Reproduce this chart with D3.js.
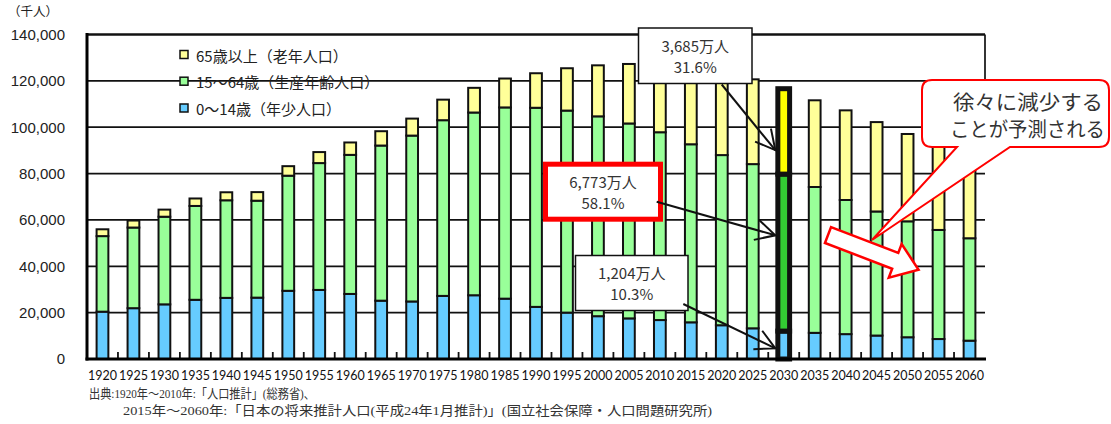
<!DOCTYPE html>
<html lang="ja">
<head>
<meta charset="utf-8">
<script src="https://cdn.jsdelivr.net/npm/d3@7"></script>
<style>
  body { margin: 0; background: #fff; }
  svg { display: block; }
</style>
</head>
<body>
<svg id="chart" width="1111" height="424"></svg>
<script>
// Population by age group, thousands of people (census to 2010, projection from 2015)
const years = [1920, 1925, 1930, 1935, 1940, 1945, 1950, 1955, 1960, 1965, 1970, 1975, 1980, 1985, 1990,
  1995, 2000, 2005, 2010, 2015, 2020, 2025, 2030, 2035, 2040, 2045, 2050, 2055, 2060];
const youth = [20416, 21924, 23579, 25545, 26369, 26477, 29428, 29798, 28067, 25166, 24823, 27221, 27507, 26033, 22486,
  20014, 18472, 17521, 16803, 15827, 14568, 13240, 12039, 11287, 10732, 10116, 9387, 8614, 7912];
const working = [32605, 34792, 37807, 40484, 42110, 41821, 49658, 54729, 60002, 66928, 71566, 75807, 78835, 82506, 85904,
  87165, 86220, 84092, 81032, 76818, 73408, 70845, 67730, 62919, 57866, 53531, 50013, 47063, 44183];
const elderly = [2941, 3021, 3064, 3225, 3454, 3700, 4109, 4747, 5350, 6181, 7331, 8865, 10647, 12468, 14895,
  18261, 22005, 25672, 29246, 33952, 36124, 36573, 36849, 37407, 38678, 38564, 37676, 36257, 34642];
const yTicks = [0, 20000, 40000, 60000, 80000, 100000, 120000, 140000];
const highlightYear = 2030;

const seriesKeys = ["youth", "working", "elderly"];
const seriesLabels = {
  elderly: "65歳以上（老年人口）",
  working: "15～64歳（生産年齢人口）",
  youth: "0～14歳（年少人口）"
};
const colors = { youth: "#66CCFF", working: "#99FF99", elderly: "#FFFF99" };
const hiColors = { youth: "#66CCFF", working: "#33CC33", elderly: "#FFFF00" };

const rows = years.map((yr, i) => ({ year: yr, youth: youth[i], working: working[i], elderly: elderly[i] }));
const stacked = d3.stack().keys(seriesKeys)(rows);

const svg = d3.select("#chart");
const jp = "'Noto Sans CJK JP', 'Noto Sans', sans-serif";

const x = d3.scaleBand().domain(years).range([87, 985]).padding(0);
const y = d3.scaleLinear().domain([0, 140000]).range([359, 34.5]);
const barW = x.bandwidth() * 0.38;

// horizontal grid and frame
svg.append("g").selectAll("line").data(yTicks.filter(d => d > 0 && d < 140000)).join("line")
  .attr("x1", 87).attr("x2", 985).attr("y1", d => y(d)).attr("y2", d => y(d))
  .attr("stroke", "#111").attr("stroke-width", 1.7);
svg.append("line").attr("x1", 87).attr("x2", 985).attr("y1", y(140000)).attr("y2", y(140000))
  .attr("stroke", "#111").attr("stroke-width", 2.4);
svg.append("line").attr("x1", 985).attr("x2", 985).attr("y1", y(140000)).attr("y2", y(100000))
  .attr("stroke", "#111").attr("stroke-width", 1.7);

// y axis labels
const yAxis = d3.axisLeft(y).tickValues(yTicks).tickFormat(d3.format(",")).tickSize(0).tickPadding(22);
const yg = svg.append("g").attr("transform", "translate(87,0)").call(yAxis);
yg.select(".domain").remove();
yg.selectAll("text").attr("font-family", "'Liberation Sans', Arial, sans-serif")
  .attr("font-size", 15).attr("fill", "#222");

// legend
const legendRows = ["elderly", "working", "youth"];
const lg = svg.append("g");
legendRows.forEach((k, i) => {
  const cy = [55, 81.7, 108.5][i];
  lg.append("rect").attr("x", 180).attr("y", cy - 4.5).attr("width", 8).attr("height", 8)
    .attr("fill", colors[k]).attr("stroke", "#111").attr("stroke-width", 1.5);
  lg.append("text").attr("x", 196).attr("y", cy).attr("dominant-baseline", "central")
    .attr("font-family", jp).attr("font-size", 15).attr("fill", "#222").text(seriesLabels[k]);
});

// stacked bars
const barG = svg.append("g");
stacked.forEach(s => {
  barG.append("g").selectAll("rect").data(s).join("rect")
    .attr("x", d => x(d.data.year) + (x.bandwidth() - barW) / 2)
    .attr("width", barW)
    .attr("y", d => y(d[1]))
    .attr("height", d => y(d[0]) - y(d[1]))
    .attr("fill", d => d.data.year === highlightYear ? hiColors[s.key] : colors[s.key])
    .attr("stroke", "#111")
    .attr("stroke-width", d => d.data.year === highlightYear ? 5 : 2);
});

// x axis line, ticks and labels
svg.append("g").selectAll("line").data(years.slice(1)).join("line")
  .attr("x1", d => x(d)).attr("x2", d => x(d)).attr("y1", 352).attr("y2", 359)
  .attr("stroke", "#111").attr("stroke-width", 1.8);
svg.append("line").attr("x1", 85.5).attr("x2", 986).attr("y1", 359).attr("y2", 359)
  .attr("stroke", "#000").attr("stroke-width", 3);
svg.append("line").attr("x1", 87).attr("x2", 87).attr("y1", 33).attr("y2", 360.5)
  .attr("stroke", "#000").attr("stroke-width", 3);
const xAxis = d3.axisBottom(x).tickSize(0).tickPadding(12);
const xg = svg.append("g").attr("transform", "translate(0,359)").call(xAxis);
xg.select(".domain").remove();
xg.selectAll("text").attr("font-family", "Lato, 'Open Sans', sans-serif")
  .attr("font-size", 12.5).attr("fill", "#111");

// unit label
svg.append("text").attr("x", 8).attr("y", 10).attr("dominant-baseline", "central")
  .attr("font-family", jp).attr("font-size", 12.5).attr("fill", "#222").text("（千人）");

// source note
const src = svg.append("g").attr("font-family", "'Liberation Serif', 'Noto Sans CJK JP', serif")
  .attr("font-size", 13).attr("fill", "#333");
src.append("text").attr("x", 89).attr("y", 393).attr("dominant-baseline", "central")
  .attr("textLength", 226).attr("lengthAdjust", "spacingAndGlyphs")
  .text("出典:1920年～2010年:「人口推計」(総務省)、");
src.append("text").attr("x", 123).attr("y", 410).attr("dominant-baseline", "central")
  .attr("textLength", 589).attr("lengthAdjust", "spacingAndGlyphs")
  .text("2015年～2060年:「日本の将来推計人口(平成24年1月推計)」(国立社会保障・人口問題研究所)");

// value callouts for the highlighted year
const hi = rows.find(r => r.year === highlightYear);
const hiTotal = hi.youth + hi.working + hi.elderly;
const fmtMan = v => d3.format(",")(Math.round(v / 10)) + "万人";
const fmtPct = v => (v / hiTotal * 100).toFixed(1) + "%";
const barLeft = x(highlightYear) + (x.bandwidth() - barW) / 2 - 2.5;

const callouts = [
  { key: "elderly", box: [638.5, 28, 113.5, 55.5], stroke: "#111", sw: 1.5, from: [721.7, 84.5], tipV: hi.youth + hi.working + hi.elderly * 0.28 },
  { key: "working", box: [545.5, 164.2, 115, 55], stroke: "#FF0000", sw: 5, from: [656.7, 201.7], tipV: hi.youth + hi.working * 0.61 },
  { key: "youth", box: [575.5, 255.5, 112.5, 55], stroke: "#111", sw: 1.5, from: [683.3, 304], tipV: hi.youth * 0.38 }
];

const ann = svg.append("g");
callouts.forEach(c => {
  const [bx, by, bw, bh] = c.box;
  ann.append("rect").attr("x", bx).attr("y", by).attr("width", bw).attr("height", bh)
    .attr("fill", "#fff").attr("stroke", c.stroke).attr("stroke-width", c.sw);
  const cx = bx + bw / 2, cy = by + bh / 2;
  ann.append("text").attr("x", cx).attr("y", cy - 10.5).attr("text-anchor", "middle").attr("dominant-baseline", "central")
    .attr("font-family", jp).attr("font-size", 15).attr("fill", "#333").text(fmtMan(hi[c.key]));
  ann.append("text").attr("x", cx).attr("y", cy + 10.5).attr("text-anchor", "middle").attr("dominant-baseline", "central")
    .attr("font-family", jp).attr("font-size", 15).attr("fill", "#333").text(fmtPct(hi[c.key]));
});
callouts.forEach(c => {
  const [fx, fy] = c.from;
  const tx = barLeft, ty = y(c.tipV);
  ann.append("line").attr("x1", fx).attr("y1", fy).attr("x2", tx).attr("y2", ty)
    .attr("stroke", "#111").attr("stroke-width", 2);
  const ang = Math.atan2(ty - fy, tx - fx);
  const hl = 22, spread = Math.PI / 6.5;
  const p1 = [tx - hl * Math.cos(ang - spread), ty - hl * Math.sin(ang - spread)];
  const p2 = [tx - hl * Math.cos(ang + spread), ty - hl * Math.sin(ang + spread)];
  ann.append("path").attr("d", `M${p1[0]},${p1[1]}L${tx},${ty}L${p2[0]},${p2[1]}`)
    .attr("fill", "none").attr("stroke", "#111").attr("stroke-width", 2);
});

// trend block arrow
const arrowShape = [[0, -8.5], [72, -8.5], [72, -18], [97, 0], [72, 18], [72, 8.5], [0, 8.5]];
svg.append("polygon")
  .attr("points", arrowShape.map(p => p.join(",")).join(" "))
  .attr("transform", "translate(828,235) rotate(21)")
  .attr("fill", "#fff").attr("stroke", "#FF0000").attr("stroke-width", 2.5);

// speech bubble
const bub = svg.append("g");
const bx0 = 922, by0 = 80, bx1 = 1109, by1 = 147, r = 10;
const bubblePath = `M${bx0 + r},${by0} L${bx1 - r},${by0} Q${bx1},${by0} ${bx1},${by0 + r} L${bx1},${by1 - r} Q${bx1},${by1} ${bx1 - r},${by1}
  L1010,${by1} L872,240 L957,${by1} L${bx0 + r},${by1} Q${bx0},${by1} ${bx0},${by1 - r} L${bx0},${by0 + r} Q${bx0},${by0} ${bx0 + r},${by0}Z`;
bub.append("path").attr("d", bubblePath).attr("fill", "#fff").attr("stroke", "#FF0000").attr("stroke-width", 2);
bub.append("text").attr("x", 953).attr("y", 101.7).attr("dominant-baseline", "central")
  .attr("textLength", 150).attr("lengthAdjust", "spacingAndGlyphs")
  .attr("font-family", jp).attr("font-size", 20).attr("fill", "#333").text("徐々に減少する");
bub.append("text").attr("x", 950).attr("y", 128.3).attr("dominant-baseline", "central")
  .attr("textLength", 155).attr("lengthAdjust", "spacingAndGlyphs")
  .attr("font-family", jp).attr("font-size", 20).attr("fill", "#333").text("ことが予測される");
</script>
</body>
</html>
